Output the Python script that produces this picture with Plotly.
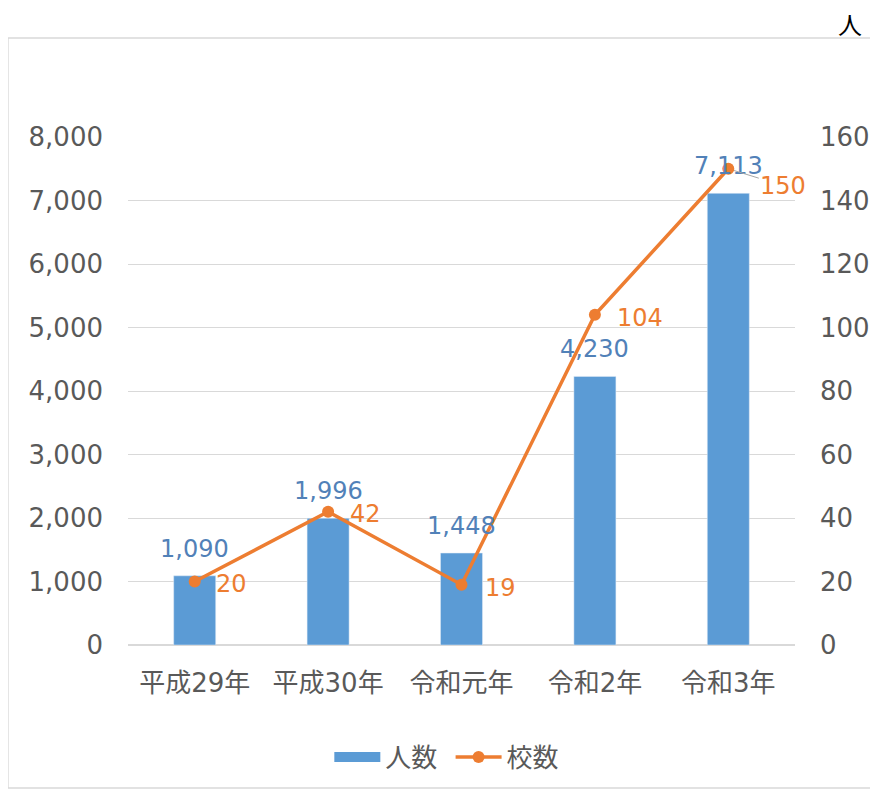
import plotly.graph_objects as go

categories = ["平成29年", "平成30年", "令和元年", "令和2年", "令和3年"]
people = [1090, 1996, 1448, 4230, 7113]
schools = [20, 42, 19, 104, 150]

# 校数 label centre offsets from their points (pixels) and leader-line visibility
school_label_ax = [37, 37, 39, 45, 55]
school_label_ay = [2, 2, 3, 3, 17]
school_leader = [False, False, False, False, True]

FONT = "DejaVu Sans, Noto Sans CJK JP"
GRAY = "#595959"
BLUE = "#5B9BD5"
BLUE_TXT = "#5181B8"
ORANGE = "#ED7D31"

fig = go.Figure()
fig.add_trace(go.Bar(
    x=categories, y=people, name="人数", marker_color=BLUE, showlegend=False,
))
# legend entry for 人数 drawn as a wide block (like the original)
fig.add_trace(go.Scatter(
    x=[None], y=[None], name="人数 ", mode="lines",
    line=dict(color=BLUE, width=14),
))
fig.add_trace(go.Scatter(
    x=categories, y=schools, name="校数", yaxis="y2",
    mode="lines+markers",
    line=dict(color=ORANGE, width=3.5),
    marker=dict(color=ORANGE, size=12),
    cliponaxis=False,
))

annotations = []
for c, v in zip(categories, people):
    annotations.append(dict(x=c, y=v, xref="x", yref="y", text=f"{v:,}",
                            xanchor="center", yanchor="bottom", yshift=11,
                            showarrow=False,
                            font=dict(size=24, color=BLUE_TXT, family=FONT)))
for c, v, ax, ay, lead in zip(categories, schools, school_label_ax, school_label_ay, school_leader):
    annotations.append(dict(x=c, y=v, xref="x", yref="y2", text=str(v),
                            showarrow=True, ax=ax, ay=ay, arrowhead=0,
                            arrowwidth=1, standoff=6,
                            arrowcolor="#A6A6A6" if lead else "rgba(0,0,0,0)",
                            font=dict(size=24, color=ORANGE, family=FONT)))
annotations.append(dict(text="人", xref="paper", yref="paper", x=1.0825, y=1.2244,
                        xanchor="center", yanchor="middle", showarrow=False, borderpad=0,
                        font=dict(size=24, color="black", family="Noto Sans CJK JP")))

fig.update_layout(
    width=878, height=791,
    margin=dict(l=120, r=91, t=129, b=154),
    paper_bgcolor="white", plot_bgcolor="white",
    font=dict(family=FONT, color=GRAY, size=26),
    bargap=0.685,
    showlegend=True,
    legend=dict(orientation="h", x=0.478, xanchor="center", y=-0.2205, yanchor="middle",
                font=dict(size=26, color=GRAY), traceorder="normal", itemwidth=46),
    xaxis=dict(range=[-0.5, 4.5], showgrid=False, showline=False, ticks="",
               ticklabelstandoff=20, tickfont=dict(size=26, color=GRAY)),
    yaxis=dict(range=[0, 8000], dtick=1000, tickformat=",", showgrid=True,
               gridcolor="#D9D9D9", gridwidth=1, zeroline=True, zerolinecolor="#D9D9D9",
               showline=False, ticks="", ticklabelstandoff=24,
               tickfont=dict(size=26, color=GRAY)),
    yaxis2=dict(range=[0, 160], dtick=20, overlaying="y", side="right", showgrid=False,
                zeroline=False, showline=False, ticks="", ticklabelstandoff=24,
                tickfont=dict(size=26, color=GRAY)),
    shapes=[dict(type="rect", xref="paper", yref="paper",
                 x0=-0.18, x1=1.2, y0=-0.2815, y1=1.195,
                 line=dict(color="#D9D9D9", width=1.5), fillcolor="rgba(0,0,0,0)", layer="below")],
    annotations=annotations,
)

fig.write_html("out.html")
